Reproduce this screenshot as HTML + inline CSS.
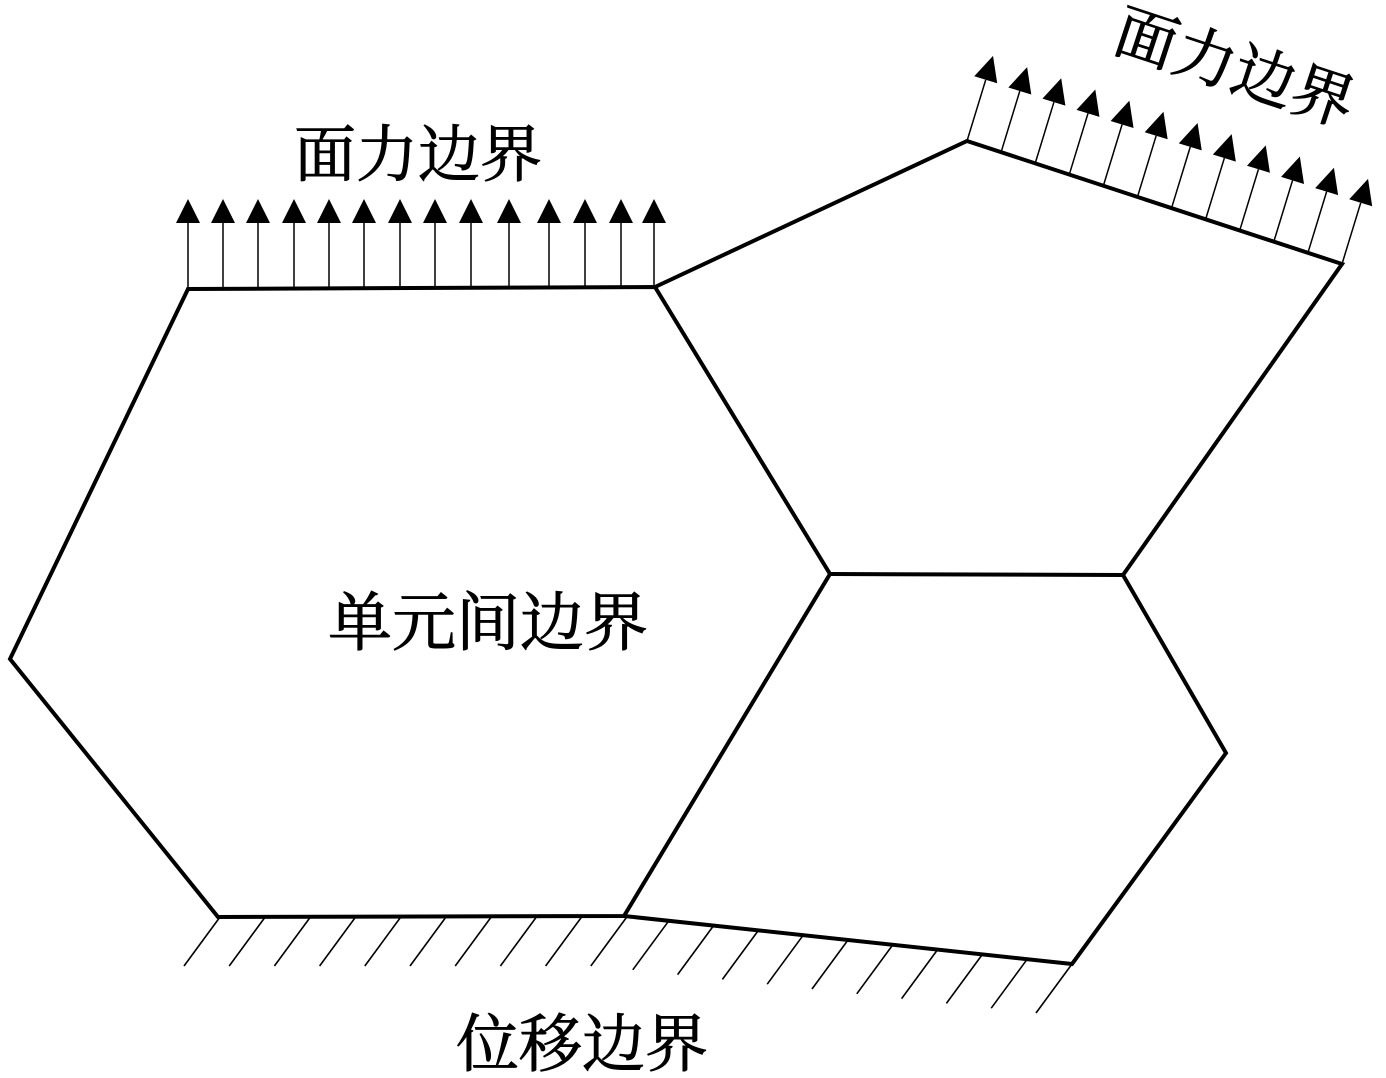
<!DOCTYPE html>
<html><head><meta charset="utf-8"><style>
html,body{margin:0;padding:0;background:#fff;}
svg{display:block}
text{font-family:"Liberation Serif","Noto Serif CJK SC","Noto Sans CJK SC",serif;fill:#000;stroke:#000;stroke-width:0.9}
</style></head><body>
<svg width="1386" height="1078" viewBox="0 0 1386 1078" xmlns="http://www.w3.org/2000/svg">
<g fill="none" stroke="#000" stroke-width="4" stroke-linejoin="miter">
<polygon points="188,289 655,287 830,574 624,916 218,917 10,659"/>
<polyline points="655,287 967,141 1342,264 1123,575 830,574"/>
<polyline points="1123,575 1226,753 1072,964 624,916"/>
</g>
<g stroke="#000" stroke-width="1.6" id="ha"></g>
<g id="ar"></g>
<text x="418" y="176" font-size="62" text-anchor="middle">面力边界</text>
<text x="0" y="0" font-size="62" text-anchor="middle" transform="translate(1228,88) rotate(18.2)">面力边界</text>
<text x="488" y="645" font-size="64" text-anchor="middle">单元间边界</text>
<text x="582" y="1066" font-size="63" text-anchor="middle">位移边界</text>
<script>
var ns="http://www.w3.org/2000/svg";
var ha=document.getElementById('ha'),ar=document.getElementById('ar');
function L(x1,y1,x2,y2,w){var l=document.createElementNS(ns,'line');l.setAttribute('x1',x1);l.setAttribute('y1',y1);l.setAttribute('x2',x2);l.setAttribute('y2',y2);l.setAttribute('stroke','#000');l.setAttribute('stroke-width',w||1.6);ha.appendChild(l);}
function P(pts){var p=document.createElementNS(ns,'polygon');p.setAttribute('points',pts);p.setAttribute('fill','#000');ar.appendChild(p);}
for(var i=0;i<10;i++){var x=220+i*45.2;L(x,917,x-36,966);}
for(var i=1;i<=10;i++){var t=i/10;var x=624+t*(1072-624),y=916+t*(964-916);L(x,y,x-36,y+49);}
var xs=[188,223,258,294,329,364,400,435,471,509,549,585,621,654];
xs.forEach(function(x){L(x,289,x,222,1.5);P((x-12)+',223 '+(x+12)+',223 '+x+',199');});
var dx=26,dy=-85,len=Math.hypot(dx,dy),ux=dx/len,uy=dy/len,px=-uy,py=ux;
for(var i=0;i<12;i++){var t=i/11;var bx=967+t*375,by=141+t*123;
var tx=bx+ux*89,ty=by+uy*89;var hx=tx-ux*25,hy=ty-uy*25;
L(bx,by,hx,hy,1.5);
P((hx+px*12)+','+(hy+py*12)+' '+(hx-px*12)+','+(hy-py*12)+' '+tx+','+ty);}
</script>
</svg>
</body></html>
